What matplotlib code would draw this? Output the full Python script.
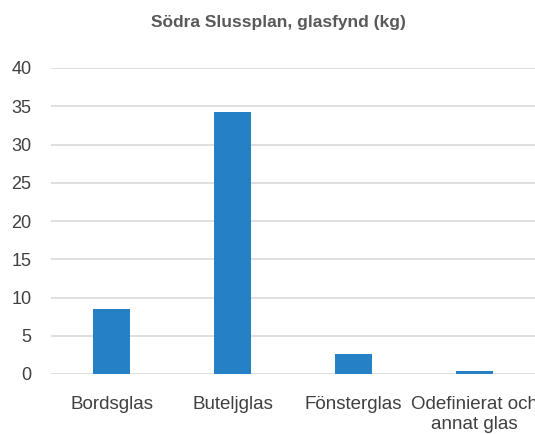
import matplotlib
matplotlib.use("Agg")
import matplotlib.pyplot as plt
from matplotlib import font_manager

categories = ["Bordsglas", "Buteljglas", "Fönsterglas", "Odefinierat och\nannat glas"]
weights_kg = [8.5, 34.2, 2.6, 0.4]
yticks = [0, 5, 10, 15, 20, 25, 30, 35, 40]
title = "Södra Slussplan, glasfynd (kg)"

names = {f.name for f in font_manager.fontManager.ttflist}
family = ["Liberation Sans Narrow", "DejaVu Sans"] if "Liberation Sans Narrow" in names else ["Liberation Sans", "DejaVu Sans"]
plt.rcParams["font.family"] = family

fig = plt.figure(figsize=(5.35, 4.34), dpi=100)
ax = fig.add_axes([51 / 535, (434 - 374) / 434, 484 / 535, (374 - 68) / 434])

x = range(len(categories))
ax.bar(x, weights_kg, width=0.31, color="#2581c4", zorder=3)

ax.set_xlim(-0.5, len(categories) - 0.5)
ax.set_ylim(0, 40)
ax.set_yticks(yticks)
ax.set_xticks(list(x))
ax.set_xticklabels(categories, fontsize=13.5, color="#404040", linespacing=1.25)
ax.tick_params(axis="y", labelsize=13, labelcolor="#404040", length=0, pad=14)
ax.tick_params(axis="x", length=0, pad=16)
ax.grid(axis="y", color="#d9d9d9", linewidth=1.2, zorder=0)
for s in ax.spines.values():
    s.set_visible(False)

fig.text(0.5 + 0.02, 1 - 23 / 434, title, ha="center", va="center",
         fontsize=12.5, fontweight="bold", color="#595959")

fig.savefig("out.png", dpi=100)
